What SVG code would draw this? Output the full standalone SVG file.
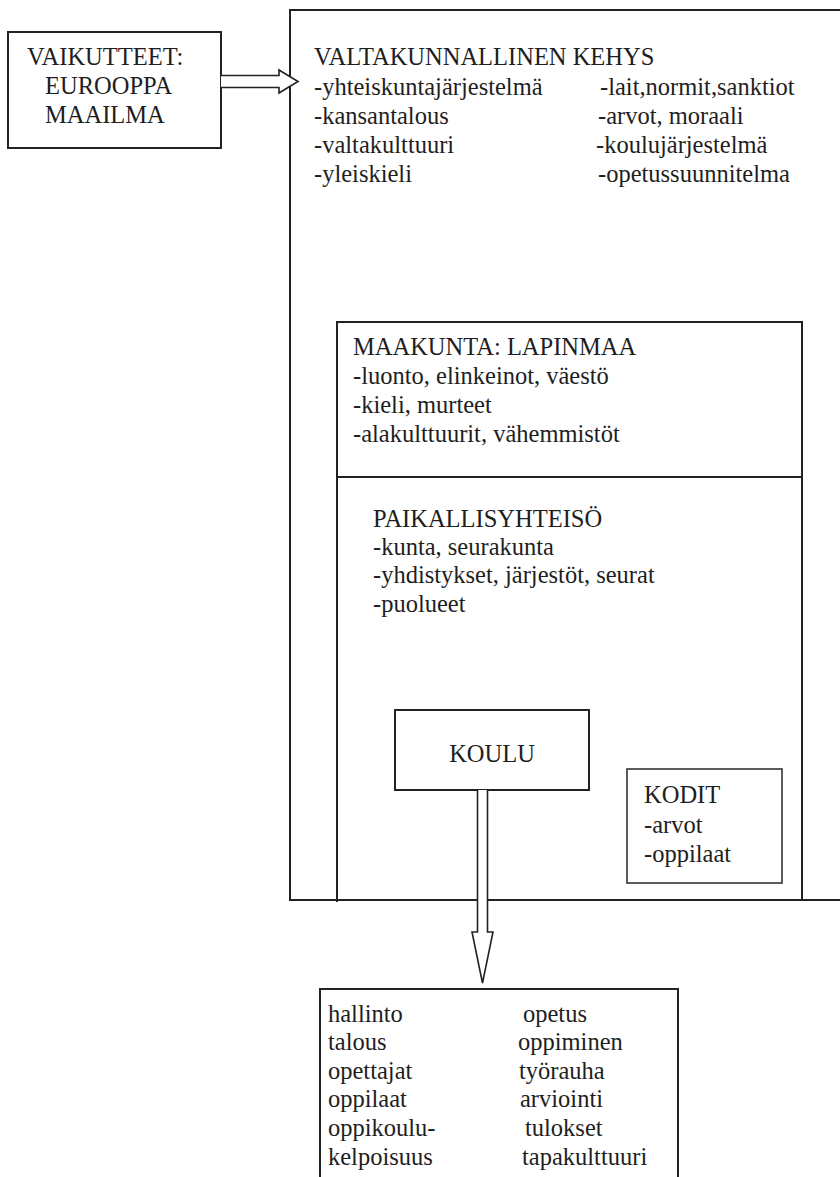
<svg xmlns="http://www.w3.org/2000/svg" width="840" height="1177" viewBox="0 0 840 1177">
  <style>
    .box { fill: none; stroke: #222; stroke-width: 2; }
    .thin { fill: none; stroke: #333; stroke-width: 1.6; }
    .hollow { fill: #fff; stroke: #222; stroke-width: 1.6; stroke-linejoin: miter; }
    text { font-family: "Liberation Serif", "Times New Roman", serif; font-size: 24.5px; fill: #1e1e1e; }
  </style>
  <rect width="840" height="1177" fill="#fff"/>

  <!-- national frame: open on the right -->
  <g id="valtakunnallinen" font-family="Liberation Serif, serif">
    <path class="box" d="M850,10 H290 V900 H850"/>
    <text x="314" y="65">VALTAKUNNALLINEN KEHYS</text>
    <text x="314" y="95">-yhteiskuntajärjestelmä</text>
    <text x="314" y="124">-kansantalous</text>
    <text x="314" y="153">-valtakulttuuri</text>
    <text x="314" y="182">-yleiskieli</text>
    <text x="600" y="95">-lait,normit,sanktiot</text>
    <text x="598" y="124">-arvot, moraali</text>
    <text x="596" y="153">-koulujärjestelmä</text>
    <text x="598" y="182">-opetussuunnitelma</text>
  </g>

  <!-- outside influences -->
  <g id="vaikutteet">
    <rect class="box" x="8" y="32" width="213" height="116"/>
    <text x="27" y="65">VAIKUTTEET:</text>
    <text x="45" y="94">EUROOPPA</text>
    <text x="45" y="123">MAAILMA</text>
  </g>

  <!-- region -->
  <g id="maakunta">
    <path class="box" d="M337,902 V322 H802 V900 M337,477 H802"/>
    <text x="353" y="355">MAAKUNTA: LAPINMAA</text>
    <text x="353" y="384">-luonto, elinkeinot, väestö</text>
    <text x="353" y="413">-kieli, murteet</text>
    <text x="353" y="442">-alakulttuurit, vähemmistöt</text>
  </g>

  <!-- local community -->
  <g id="paikallisyhteiso">
    <text x="373" y="527">PAIKALLISYHTEISÖ</text>
    <text x="373" y="555">-kunta, seurakunta</text>
    <text x="373" y="583">-yhdistykset, järjestöt, seurat</text>
    <text x="373" y="612">-puolueet</text>
  </g>

  <g id="koulu">
    <rect class="box" x="395" y="710" width="194" height="80"/>
    <text x="492" y="762" text-anchor="middle">KOULU</text>
  </g>

  <g id="kodit">
    <rect class="thin" x="627" y="769" width="155" height="114"/>
    <text x="644" y="803">KODIT</text>
    <text x="644" y="833">-arvot</text>
    <text x="644" y="862">-oppilaat</text>
  </g>

  <!-- school outcomes: open at the bottom -->
  <g id="tulokset">
    <path class="box" d="M320,1180 V989 H678 V1180"/>
    <text x="328" y="1022">hallinto</text>
    <text x="328" y="1050">talous</text>
    <text x="328" y="1079">opettajat</text>
    <text x="328" y="1107">oppilaat</text>
    <text x="328" y="1136">oppikoulu-</text>
    <text x="328" y="1165">kelpoisuus</text>
    <text x="523" y="1022">opetus</text>
    <text x="518" y="1050">oppiminen</text>
    <text x="519" y="1079">työrauha</text>
    <text x="520" y="1107">arviointi</text>
    <text x="525" y="1136">tulokset</text>
    <text x="522" y="1165">tapakulttuuri</text>
  </g>

  <!-- hollow block arrows -->
  <g id="connectors">
    <path class="hollow" d="M221,75.5 H279 V70 L298,81.5 L279,93 V87.5 H221"/>
    <path class="hollow" d="M477.5,790 V932 H472 L482.5,983 L493,932 H487.5 V790"/>
  </g>
</svg>
